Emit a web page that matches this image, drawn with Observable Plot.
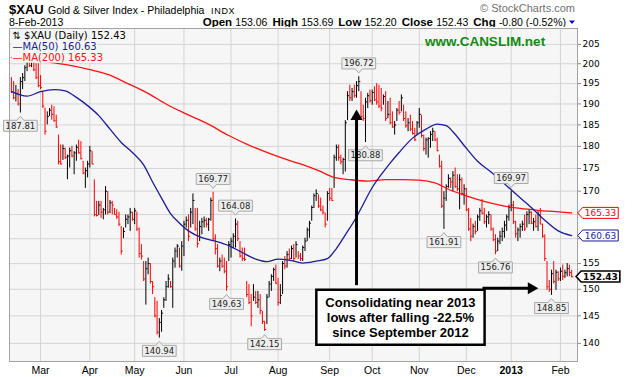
<!DOCTYPE html>
<html>
<head>
<meta charset="utf-8">
<script src="https://cdn.jsdelivr.net/npm/d3@7"></script>
<script src="https://cdn.jsdelivr.net/npm/@observablehq/plot@0.6"></script>
<style>
html,body{margin:0;padding:0;background:#fff;}
#wrap{width:635px;height:377px;overflow:hidden;position:relative;}
svg{display:block;}
</style>
</head>
<body>
<div id="wrap"></div>
<script>
// ---------- header text ----------
const symbol = "$XAU";
const title = "Gold & Silver Index - Philadelphia";
const exchange = "INDX";
const dateStr = "8-Feb-2013";
const quoteLabels = ["Open", "High", "Low", "Close", "Chg"];
const quoteValues = ["153.06", "153.69", "152.20", "152.43", "-0.80 (-0.52%)"];

// ---------- daily bars (trading-day index 0 = 10-Feb-2012) ----------
const highs = [
196.5,195.5,194.5,193.5,196.5,197.5,199.5,201.0,201.0,201.5,
201.0,200.0,200.0,197.0,193.0,189.0,188.1,188.9,189.7,189.3,
187.3,182.6,180.3,180.3,179.6,178.0,179.6,180.0,178.8,180.3,
181.4,181.1,176.6,175.1,176.6,180.0,178.8,172.5,167.8,167.8,
167.8,166.3,171.0,169.9,168.0,167.8,166.3,166.0,165.5,162.5,
162.2,164.9,164.9,166.3,165.5,166.3,165.5,162.2,158.8,155.4,
155.4,156.1,155.0,151.5,148.4,147.7,144.5,146.0,148.4,151.5,
152.8,151.5,156.1,158.1,158.8,158.1,159.4,163.6,164.5,164.9,
166.3,169.4,166.3,166.3,163.6,164.2,164.5,164.2,164.2,168.5,
169.77,160.8,158.8,156.1,156.7,156.1,155.4,159.4,160.1,161.0,
164.08,163.6,159.4,158.1,158.1,151.5,150.9,149.0,150.9,149.6,
149.6,149.0,145.8,144.0,149.0,151.5,152.8,154.1,154.7,152.1,
150.9,155.4,156.4,157.4,157.9,158.5,158.8,159.4,157.4,157.0,
158.5,160.1,162.2,163.6,166.8,169.4,170.3,169.2,168.5,166.8,
165.3,169.9,170.6,170.6,178.0,180.3,180.3,178.0,177.3,186.0,
193.0,194.6,193.8,194.6,195.5,196.72,193.0,189.7,191.4,192.6,
193.4,193.4,194.2,195.0,194.6,193.8,192.2,193.0,190.6,191.4,
188.1,185.8,188.9,190.6,192.2,189.7,188.1,186.5,187.3,185.8,
184.2,185.8,188.9,187.3,182.6,181.9,182.0,183.4,184.2,183.4,
181.9,178.0,176.6,169.9,171.4,173.6,172.9,174.3,175.1,173.6,
173.6,172.9,171.4,170.6,166.3,164.2,163.0,163.6,164.9,166.3,
168.2,166.3,164.9,165.6,164.9,162.2,160.8,160.1,161.5,162.2,
163.6,164.9,167.0,169.97,167.8,163.6,162.2,163.0,163.6,164.9,
165.6,165.9,165.6,164.2,164.9,165.6,166.3,163.0,160.8,155.4,
151.7,153.7,155.4,153.7,153.4,154.1,154.7,153.7,155.0,154.7,
153.69];
const lows = [
192.5,191.0,190.5,189.5,187.81,193.5,195.5,198.0,199.0,199.0,
198.0,196.0,194.0,193.5,188.9,182.6,185.0,187.0,186.1,185.6,
184.2,175.8,175.8,176.8,177.0,172.5,175.1,177.4,173.6,176.6,
178.2,176.9,173.6,170.6,172.9,175.1,175.8,164.5,164.5,164.8,
164.2,163.9,164.9,164.9,165.2,164.9,164.9,164.0,162.5,156.7,
160.0,162.2,162.9,161.5,163.6,162.9,161.5,156.1,155.7,151.5,
147.0,152.8,151.0,149.0,144.6,141.5,140.94,142.0,146.4,147.7,
150.2,150.2,146.4,154.1,156.1,154.1,153.5,156.4,162.2,159.4,
162.2,162.9,161.5,158.1,159.4,160.8,162.2,162.2,161.5,163.6,
159.4,156.7,154.1,153.4,154.1,153.0,149.63,155.4,156.1,158.0,
158.1,159.4,156.1,155.4,155.4,148.4,147.1,143.0,147.7,147.1,
146.4,145.2,143.4,142.15,143.4,148.4,149.6,151.5,150.9,146.8,
147.1,149.0,153.8,154.1,155.4,155.8,155.4,156.1,155.8,155.4,
155.4,157.4,159.4,160.1,163.6,166.3,167.8,166.3,165.6,164.9,
162.2,163.6,167.8,167.8,170.6,176.6,176.6,175.8,173.6,174.2,
186.0,190.6,190.6,191.4,191.4,193.0,186.5,185.8,180.88,188.9,
190.2,189.7,190.6,189.7,188.9,188.1,189.7,185.8,186.5,185.0,
184.2,182.6,185.8,187.3,188.1,185.8,184.2,183.4,183.4,182.6,
181.1,182.6,184.2,181.9,178.8,178.0,177.3,179.6,181.1,181.1,
178.8,175.1,166.3,161.91,167.8,170.6,170.6,169.9,170.6,169.9,
166.0,169.0,167.0,165.6,161.5,159.4,160.1,160.8,161.5,163.6,
164.9,162.9,162.2,162.9,161.5,159.4,156.76,157.4,158.8,159.4,
160.1,161.5,163.6,165.6,162.9,160.1,159.4,160.1,161.5,161.5,
162.2,162.9,162.9,161.5,162.2,161.5,162.9,160.1,155.4,149.8,
149.4,148.85,151.0,149.8,151.5,151.5,151.7,152.1,152.4,152.4,
152.20];
const closes = [
193.0,191.5,192.5,190.0,195.5,196.5,199.0,200.5,199.5,201.0,
198.5,196.5,194.5,194.0,189.5,183.5,187.0,188.5,187.5,186.0,
184.5,176.5,176.0,179.5,177.5,177.8,179.0,177.8,178.5,179.8,
178.5,177.2,174.0,174.5,176.0,179.0,176.0,165.0,164.8,167.0,
165.5,166.0,170.0,165.5,167.5,167.0,165.0,164.5,163.0,157.5,
161.5,164.0,164.5,165.5,164.0,165.8,162.0,157.0,156.5,152.0,
154.0,155.0,151.5,150.5,145.0,142.0,143.8,145.5,148.0,150.5,
152.0,150.5,155.5,157.5,158.5,154.5,158.5,163.0,163.8,160.5,
165.5,168.0,162.0,159.0,162.5,163.5,163.8,163.0,164.0,168.0,
160.0,158.0,154.5,155.5,154.5,153.5,150.5,158.8,159.5,160.5,
163.0,160.0,156.5,156.0,155.8,149.0,147.5,145.0,148.5,147.5,
148.0,146.0,144.0,142.5,148.5,151.0,152.5,153.8,151.2,147.5,
148.8,155.0,154.5,156.8,156.0,158.0,156.0,158.8,156.5,156.0,
158.2,159.5,161.8,163.2,166.5,169.0,169.5,166.8,166.0,165.5,
163.0,169.5,168.5,168.0,177.5,179.8,177.5,176.5,177.0,185.5,
192.0,191.5,193.0,192.0,194.5,195.5,187.0,186.5,190.5,192.0,
190.8,192.8,191.0,190.5,189.5,189.0,191.8,186.5,187.5,185.5,
184.5,185.0,188.5,188.0,191.5,186.5,184.8,185.5,184.0,183.0,
181.5,185.5,187.5,182.5,179.5,181.5,181.8,182.8,183.5,181.5,
179.0,175.5,166.8,168.5,171.0,172.8,172.0,173.5,171.0,170.5,
172.5,169.5,170.5,166.0,162.0,160.5,162.5,161.5,164.5,165.8,
165.3,163.5,164.5,165.0,162.0,159.8,157.5,159.5,160.5,161.5,
162.8,164.5,166.5,167.0,163.5,161.0,161.8,162.5,163.0,162.0,
165.0,165.5,163.2,163.5,162.5,165.0,163.0,160.5,156.0,150.5,
150.0,153.0,151.5,153.3,152.0,153.5,152.5,153.2,154.0,153.23,
152.43];
const prevClose = 193.5; // close of the day before the first bar

// ---------- moving averages ----------
const ma50Idx = [0,3,7,13,19,24,29,34,39,44,49,54,59,63,67,71,75,79,85,91,97,103,109,114,119,124,130,136,141,145,149,154,157,161,165,169,173,179,185,190,194,197,202,208,214,220,226,232,238,244,250];
const ma50Val = [193.0,192.4,191.9,193.0,193.5,193.2,191.6,189.6,187.2,184.0,180.9,178.6,175.8,172.0,168.5,165.2,163.2,161.6,160.2,159.5,158.6,157.2,155.9,155.4,155.9,155.7,155.1,155.5,156.0,158.0,160.8,164.5,167.2,170.8,173.6,176.2,178.6,181.9,184.0,185.2,184.8,183.4,180.2,176.6,174.2,171.6,169.0,166.5,163.8,161.6,160.63];
const ma200Idx = [0,9,17,25,35,43,52,61,69,78,87,97,105,114,121,129,137,144,151,159,167,175,182,189,196,203,211,219,227,235,243,250];
const ma200Val = [201.6,201.0,200.4,199.7,198.5,197.3,195.0,192.6,190.0,187.6,185.4,182.5,180.5,178.6,177.3,176.0,174.5,173.0,172.5,172.2,172.5,172.5,172.4,171.8,170.2,169.0,167.8,166.9,166.3,165.9,165.6,165.33];

// ---------- axes ----------
const monthIdx = [13,35,55,77,98,119,142,161,182,203,223,245];
const monthLabels = ["Mar","Apr","May","Jun","Jul","Aug","Sep","Oct","Nov","Dec","2013","Feb"];
const yTicks = [140,145,150,155,160,165,170,175,180,185,190,195,200,205];
const yTicksHidden = [160,165]; // covered by the MA value flags in the reference

// ---------- annotations ----------
const hlIdx  = [4, 66, 90, 96, 100, 113, 155, 158, 193, 216, 223, 241];
const hlSide = ["low","low","high","low","high","low","high","low","low","low","high","low"];
const calloutLines = ["Consolidating near 2013", "lows after falling -22.5%", "since September 2012"];
const calloutAt = [173.6, 144.8];              // [bar index, price]
const arrowX1 = [154.0, 210.2], arrowY1 = [150.8, 150.2];
const arrowX2 = [154.0, 232.0], arrowY2 = [187.0, 150.2];
const arrowRot = [0, 90];
const watermark = "www.CANSLIM.net";
const copyright = "\u00a9 StockCharts.com";

// ================= build =================
const n = Math.min(highs.length, lows.length, closes.length);
const bars = d3.range(n).map(i => ({
  i, high: highs[i], low: lows[i], close: closes[i],
  col: closes[i] > (i ? closes[i - 1] : prevClose) ? "#000000" : "#ff0000"
}));
const last = n - 1;
const ma50 = ma50Idx.map((x, k) => ({x, y: ma50Val[k]}));
const ma200 = ma200Idx.map((x, k) => ({x, y: ma200Val[k]}));
const hl = hlIdx.map((x, k) => ({x, side: hlSide[k], y: hlSide[k] === "high" ? highs[x] : lows[x]}));
const arrows = arrowX1.map((x1, k) => ({x1, y1: arrowY1[k], x2: arrowX2[k], y2: arrowY2[k], rot: arrowRot[k]}));
const mName = new Map(monthIdx.map((m, k) => [m, monthLabels[k]]));
const maMarkers = [
  {v: ma200Val[ma200Val.length - 1], c: "#ff0000"},
  {v: ma50Val[ma50Val.length - 1], c: "#1c1c9a"}
];
const BG = "#f6f6f6", GRID = "#d4d4d4";
const BLUE = "#1c1c9a", RED = "#ff1010";
const SANS = "'Liberation Sans', Arial, sans-serif";
const VERD = "'DejaVu Sans', Verdana, sans-serif";

// header
const wrap = d3.select("#wrap");
const hdr = wrap.append("svg").attr("width", 635).attr("height", 27)
  .attr("font-family", SANS).style("white-space", "pre");
hdr.append("text").attr("x", 9).attr("y", 13.5).attr("font-size", 13).attr("font-weight", "bold").text(symbol);
hdr.append("text").attr("x", 48).attr("y", 13.5).attr("font-size", 10.5).text(title);
hdr.append("text").attr("x", 211).attr("y", 13.5).attr("font-size", 9).attr("letter-spacing", 0.7).text(exchange);
hdr.append("text").attr("x", 575).attr("y", 12).attr("text-anchor", "end").attr("font-size", 11).attr("fill", "#707070").text(copyright);
hdr.append("text").attr("x", 9).attr("y", 25.5).attr("font-size", 10.5).text(dateStr);
const q = hdr.append("text").attr("x", 566).attr("y", 25.5).attr("text-anchor", "end").attr("font-size", 10.5);
quoteLabels.forEach((l, k) => {
  q.append("tspan").attr("font-weight", "bold").attr("font-size", 11.5).attr("dx", k ? 5 : 0).text(l + " ");
  q.append("tspan").text(quoteValues[k]);
});
hdr.append("path").attr("d", "M569,20.5L575,20.5L572,24Z").attr("fill", "#0000ee");

const chart = Plot.plot({
  width: 635, height: 350,
  marginTop: 1, marginBottom: 16, marginLeft: 9, marginRight: 58,
  x: {domain: [-0.85, 252.6]},
  y: {type: "log", domain: [136.8, 209.2]},
  style: {fontFamily: VERD, background: "transparent", overflow: "visible"},
  marks: [
    Plot.frame({fill: BG}),
    Plot.gridY(yTicks, {stroke: GRID, strokeOpacity: 1}),
    Plot.gridX(monthIdx, {stroke: GRID, strokeOpacity: 1}),
    Plot.ruleX(bars, {x: "i", y1: "low", y2: "high", stroke: "col", strokeWidth: 1}),
    Plot.link(bars, {x1: "i", x2: d => d.i + 0.7, y1: "close", y2: "close", stroke: "col", strokeWidth: 1}),
    Plot.line(ma200, {x: "x", y: "y", stroke: RED, strokeWidth: 1.3, curve: "monotone-x"}),
    Plot.line(ma50, {x: "x", y: "y", stroke: BLUE, strokeWidth: 1.3, curve: "monotone-x"}),
    Plot.text(hl.filter(d => d.side === "low"), {x: "x", y: "y", text: d => d.y.toFixed(2), dy: 13, fontSize: 8.5, fill: "#222", ariaDescription: "hl-low"}),
    Plot.text(hl.filter(d => d.side === "high"), {x: "x", y: "y", text: d => d.y.toFixed(2), dy: -13, fontSize: 8.5, fill: "#222", ariaDescription: "hl-high"}),
    Plot.link(arrows, {x1: "x1", y1: "y1", x2: "x2", y2: "y2", stroke: "#000", strokeWidth: 3}),
    Plot.dot(arrows, {x: "x2", y: "y2", symbol: "triangle", r: 4.5, fill: "#000", stroke: null, rotate: "rot"}),
    Plot.text([calloutLines.join("\n")], {x: () => calloutAt[0], y: () => calloutAt[1], text: d => d,
      fontSize: 13, fontWeight: "bold", lineHeight: 1.15, fontFamily: SANS, fill: "#000", ariaDescription: "callout"}),
    Plot.text([`\u21c5 ${symbol} (Daily) ${closes[last].toFixed(2)}`], {text: d => d, frameAnchor: "top-left", dx: 3, dy: 7,
      lineAnchor: "middle", textAnchor: "start", fontSize: 10, fill: "#000", ariaDescription: "legend"}),
    Plot.text([`\u2014MA(50) ${ma50Val[ma50Val.length - 1].toFixed(2)}`], {text: d => d, frameAnchor: "top-left", dx: 3, dy: 18,
      lineAnchor: "middle", textAnchor: "start", fontSize: 10, fill: BLUE, ariaDescription: "legend"}),
    Plot.text([`\u2014MA(200) ${ma200Val[ma200Val.length - 1].toFixed(2)}`], {text: d => d, frameAnchor: "top-left", dx: 3, dy: 29,
      lineAnchor: "middle", textAnchor: "start", fontSize: 10, fill: RED, ariaDescription: "legend"}),
    Plot.text([watermark], {text: d => d, frameAnchor: "top-left", dx: 475.5, dy: 13.5, lineAnchor: "middle",
      textAnchor: "middle", fontSize: 13.5, fontWeight: "bold", fill: "#128a12", fontFamily: SANS}),
    Plot.frame({stroke: "#a3a3a3"}),
    Plot.axisY(yTicks, {anchor: "right", tickSize: 3, tickPadding: 2, fontSize: 9, stroke: "#8a8a8a",
      tickFormat: d => yTicksHidden.includes(d) ? "" : String(d)}),
    Plot.axisX(monthIdx, {anchor: "bottom", tickSize: 0, tickPadding: 5, fontSize: 10.5, fontFamily: SANS, tickFormat: i => mName.get(i)}),
    Plot.text(maMarkers, {x: () => last, y: "v", text: d => d.v.toFixed(2), dx: 28.8, fill: "c", fontSize: 9,
      textAnchor: "middle", ariaDescription: "marker"}),
    Plot.text([closes[last]], {x: () => last, y: d => d, text: d => d.toFixed(2), dx: 28.8, fill: "#000", fontSize: 9,
      fontWeight: "bold", textAnchor: "middle", ariaDescription: "marker-bold"})
  ]
});
wrap.node().appendChild(chart);

// ---------- label boxes (styling of the text marks) ----------
const NS = "http://www.w3.org/2000/svg";
function addBox(t, o) {
  const b = t.getBBox();
  const x0 = b.x - o.pad[0], x1 = b.x + b.width + o.pad[0];
  const y0 = b.y - o.pad[1], y1 = b.y + b.height + o.pad[1];
  const cx = (x0 + x1) / 2, ym = (y0 + y1) / 2;
  let d;
  if (o.pointer === "up") d = `M${x0},${y0}H${cx - 3.5}L${cx},${y0 - 4}L${cx + 3.5},${y0}H${x1}V${y1}H${x0}Z`;
  else if (o.pointer === "down") d = `M${x0},${y0}H${x1}V${y1}H${cx + 3.5}L${cx},${y1 + 4}L${cx - 3.5},${y1}H${x0}Z`;
  else if (o.pointer === "left") d = `M${x0},${y0}H${x1}V${y1}H${x0}L${x0 - 5},${ym}Z`;
  else d = `M${x0},${y0}H${x1}V${y1}H${x0}Z`;
  const p = document.createElementNS(NS, "path");
  p.setAttribute("d", d);
  p.setAttribute("fill", o.fill);
  p.setAttribute("stroke", o.stroke || "none");
  p.setAttribute("stroke-width", o.sw || 1);
  const tr = t.getAttribute("transform");
  if (tr) p.setAttribute("transform", tr);
  t.parentNode.insertBefore(p, t);
}
const S = d3.select(chart);
S.selectAll('g[aria-description="hl-low"] text').each(function () { addBox(this, {pad: [2, 0.5], fill: "#eeeeee", stroke: "#a8a8a8", pointer: "up"}); });
S.selectAll('g[aria-description="hl-high"] text').each(function () { addBox(this, {pad: [2, 0.5], fill: "#eeeeee", stroke: "#a8a8a8", pointer: "down"}); });
S.selectAll('g[aria-description="legend"] text').each(function () { addBox(this, {pad: [1, 0], fill: BG}); });
S.selectAll('g[aria-description="callout"] text').each(function () { addBox(this, {pad: [9, 5], fill: "#fff", stroke: "#000", sw: 2.5}); });
S.selectAll('g[aria-description="marker"] text').each(function () {
  addBox(this, {pad: [2, 0.5], fill: "#fff", stroke: getComputedStyle(this).fill, pointer: "left"});
});
S.selectAll('g[aria-description="marker-bold"] text').each(function () { addBox(this, {pad: [2, 0.5], fill: "#fff", stroke: "#000", sw: 1.6, pointer: "left"}); });
S.selectAll("text").filter(function () { return this.textContent === "2013"; }).attr("font-weight", "bold");
</script>
</body>
</html>
